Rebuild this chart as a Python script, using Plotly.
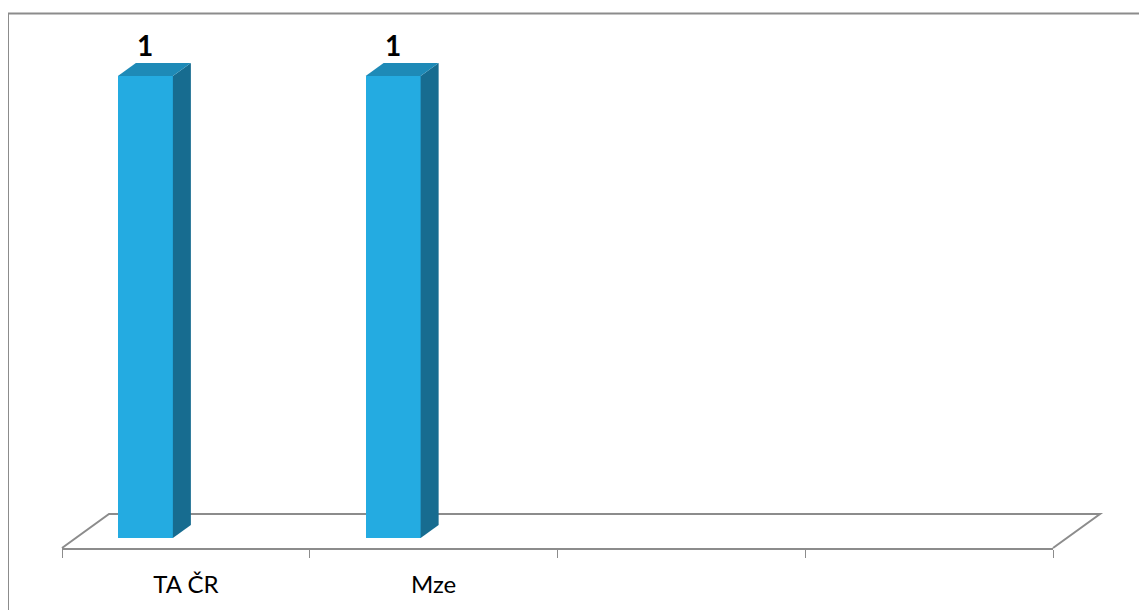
import plotly.graph_objects as go

# ---- data ----
categories = ["TA ČR", "Mze", "", " "]
values = [1, 1, None, None]
label_texts = ["1", "1", "", ""]

# ---- style / geometry (figure pixels; page adds an 8px body margin) ----
W, H = 1139, 602
L, R, T, B = 54, 94, 5, 62
PW, PH = W - L - R, H - T - B
FRONT = "#24ABE1"
SIDE = "#176C90"
TOP = "#1E8AB7"
GRID = "#8C8C8C"
FONT = "Lato, Carlito, Calibri, sans-serif"

X0, X1 = -0.5, 3.5
XU = PW / (X1 - X0)          # px per category
Y_ZERO_PX = 10               # bar base above front floor edge (px)
YU = 462                     # px per value unit
Y0 = -Y_ZERO_PX / YU
Y1 = Y0 + PH / YU

BAR_OFF_PX, BAR_W_PX = -68, 55
DEPTH_DX, DEPTH_DY = 18, 13  # bar depth (px)
FLOOR_DX, FLOOR_DY = 47, 34  # floor depth (px)

bar_off = BAR_OFF_PX / XU
bar_w = BAR_W_PX / XU
ddx = DEPTH_DX / XU
ddy = DEPTH_DY / YU

fig = go.Figure()

xs = list(range(len(categories)))
fig.add_trace(go.Bar(
    x=xs, y=[v if v is not None else 0 for v in values],
    offset=bar_off, width=bar_w,
    marker=dict(color=FRONT, line=dict(width=0)),
    hoverinfo="skip", showlegend=False,
))

# side and top faces derived from the bar values
for i, v in enumerate(values):
    if v is None:
        continue
    xl = i + bar_off
    xr = xl + bar_w
    fig.add_trace(go.Scatter(
        x=[xr, xr + ddx, xr + ddx, xr, xr],
        y=[0, ddy, v + ddy, v, 0],
        fill="toself", fillcolor=SIDE, mode="lines",
        line=dict(width=0, color=SIDE), hoverinfo="skip", showlegend=False,
    ))
    fig.add_trace(go.Scatter(
        x=[xl, xr, xr + ddx, xl + ddx, xl],
        y=[v, v, v + ddy, v + ddy, v],
        fill="toself", fillcolor=TOP, mode="lines",
        line=dict(width=0, color=TOP), hoverinfo="skip", showlegend=False,
    ))

annotations = []
for i, (v, t) in enumerate(zip(values, label_texts)):
    if v is None:
        continue
    annotations.append(dict(
        x=i + bar_off + bar_w / 2, y=v, xref="x", yref="y",
        text="<b>%s</b>" % t, showarrow=False, yanchor="bottom",
        yshift=12, font=dict(size=28, color="black", family=FONT),
    ))


def px_to_paper(px, py):
    return (px - L) / PW, (H - B - py) / PH


# floor plane (paper coords)
fl = [px_to_paper(L, H - B), px_to_paper(L + FLOOR_DX, H - B - FLOOR_DY),
      px_to_paper(L + PW + FLOOR_DX, H - B - FLOOR_DY), px_to_paper(L + PW, H - B)]
path = "M %f %f L %f %f L %f %f L %f %f" % (fl[0] + fl[1] + fl[2] + fl[3])
shapes = [
    dict(type="path", xref="paper", yref="paper", path=path,
         line=dict(color=GRID, width=2), layer="below"),
]
bx0, by0 = px_to_paper(0, 5.5)
bx1, by1 = px_to_paper(W + 10, H + 10)
shapes.append(dict(type="rect", xref="paper", yref="paper",
                   x0=bx0, y0=by1, x1=bx1, y1=by0,
                   line=dict(color=GRID, width=2)))

fig.update_layout(
    width=W, height=H,
    margin=dict(l=L, r=R, t=T, b=B),
    paper_bgcolor="white", plot_bgcolor="white",
    bargap=0,
    shapes=shapes,
    annotations=annotations,
    xaxis=dict(
        range=[X0, X1], tickmode="array", tickvals=xs, ticktext=categories,
        ticks="", showgrid=False, zeroline=False,
        showline=True, linecolor=GRID, linewidth=2,
        tickfont=dict(size=24, color="black", family=FONT),
        ticklabelstandoff=14,
        minor=dict(tickmode="array", tickvals=[X0 + k for k in range(5)],
                   ticks="outside", ticklen=8, tickcolor=GRID, tickwidth=1,
                   showgrid=False),
        fixedrange=True,
    ),
    yaxis=dict(range=[Y0, Y1], visible=False, showgrid=False, zeroline=False,
               fixedrange=True),
)

fig.write_html("out.html")
